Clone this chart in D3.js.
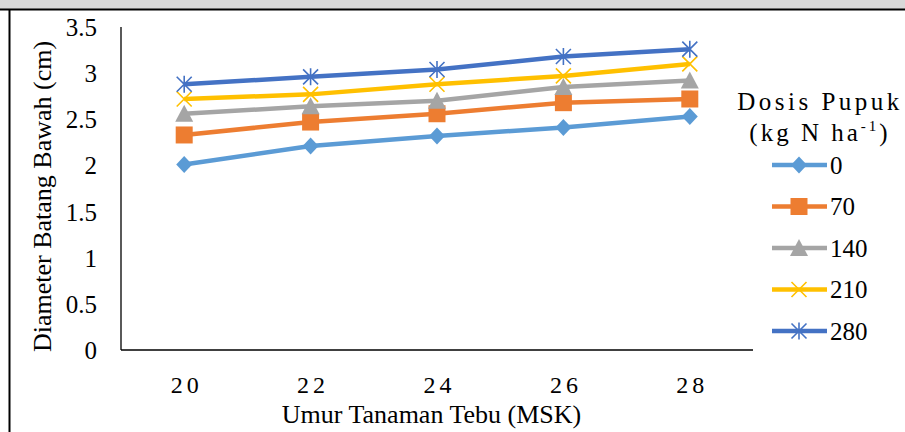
<!DOCTYPE html>
<html>
<head>
<meta charset="utf-8">
<script src="https://cdn.jsdelivr.net/npm/d3@7"></script>
<style>
  body { margin: 0; background: #fff; }
  svg { display: block; font-family: "Liberation Serif", "Times New Roman", serif; }
</style>
</head>
<body>
<svg id="chart" width="905" height="432"></svg>
<script>
'use strict';

// umur tanaman (MSK)
const weeks = ['20', '22', '24', '26', '28'];
const doses = ['0', '70', '140', '210', '280'];
const yTicks = [0, 0.5, 1, 1.5, 2, 2.5, 3, 3.5];

// diameter batang bawah (cm) per dosis
const dose0 = [2.01, 2.21, 2.32, 2.41, 2.53];
const dose70 = [2.33, 2.47, 2.56, 2.68, 2.72];
const dose140 = [2.56, 2.64, 2.70, 2.85, 2.92];
const dose210 = [2.72, 2.77, 2.88, 2.97, 3.10];
const dose280 = [2.88, 2.96, 3.04, 3.18, 3.26];

const seriesValues = [dose0, dose70, dose140, dose210, dose280];
const colors = ['#5b9bd5', '#ed7d31', '#a5a5a5', '#ffc000', '#4472c4'];
const markers = ['diamond', 'square', 'triangle', 'x', 'star'];

const FONT = '"Liberation Serif", "Times New Roman", serif';

let svg = d3.select('#chart');
let margin = {top: 27, left: 121, right: 152, bottom: 82};
let width = 905 - margin.left - margin.right;
let height = 432 - margin.top - margin.bottom;

// page frame
svg.append('rect').attr('x', 0).attr('y', 0).attr('width', 905).attr('height', 9).attr('fill', '#d9d9d9');
svg.append('line').attr('x1', 0).attr('x2', 905).attr('y1', 9.5).attr('y2', 9.5)
    .attr('stroke', '#000').attr('stroke-width', 2);
svg.append('line').attr('x1', 9.5).attr('x2', 9.5).attr('y1', 9).attr('y2', 432)
    .attr('stroke', '#000').attr('stroke-width', 2);

let g = svg.append('g').attr('transform', 'translate(' + margin.left + ',' + margin.top + ')');

let x = d3.scalePoint().domain(weeks).range([0, width]).padding(0.5);
let y = d3.scaleLinear().domain([0, 3.5]).range([height, 0]);

// axes
let xAxis = g.append('g')
    .attr('transform', 'translate(0,' + height + ')')
    .call(d3.axisBottom(x).tickSize(0));
xAxis.select('.domain').attr('stroke', '#000').attr('stroke-width', 1.3)
    .attr('d', 'M0,0H' + width);
xAxis.selectAll('text')
    .attr('y', 43).attr('dy', 0).attr('dx', 2)
    .attr('font-size', 24).attr('letter-spacing', '4px')
    .attr('fill', '#000').attr('font-family', FONT);

let yAxis = g.append('g')
    .call(d3.axisLeft(y).tickValues(yTicks).tickSize(0).tickPadding(24).tickFormat(d3.format('')));
yAxis.select('.domain').attr('stroke', '#000').attr('stroke-width', 1.3)
    .attr('d', 'M0,0V' + height);
yAxis.selectAll('text').attr('font-size', 25).attr('fill', '#000')
    .attr('font-family', FONT).attr('dy', '0.34em');

// axis titles
svg.append('text')
    .attr('x', 431.5)
    .attr('y', 423)
    .attr('text-anchor', 'middle')
    .attr('font-family', FONT)
    .attr('font-size', 26)
    .text('Umur Tanaman Tebu (MSK)');

svg.append('text')
    .attr('transform', 'translate(51,196.5)rotate(-90)')
    .attr('text-anchor', 'middle')
    .attr('font-family', FONT)
    .attr('font-size', 26)
    .text('Diameter Batang Bawah (cm)');

function markerPath(type) {
    switch (type) {
        case 'diamond': return 'M0,-8.5L8,0L0,8.5L-8,0Z';
        case 'square': return 'M-8.5,-8.5H8.5V8.5H-8.5Z';
        case 'triangle': return 'M0,-9L9,8L-9,8Z';
        case 'x': return 'M-7.5,-7.5L7.5,7.5M-7.5,7.5L7.5,-7.5';
        case 'star': return 'M-7.5,-7.5L7.5,7.5M-7.5,7.5L7.5,-7.5M0,-8.5V8.5';
    }
}

function drawMarker(sel, i) {
    let type = markers[i];
    let stroked = type === 'x' || type === 'star';
    sel.append('path')
        .attr('d', markerPath(type))
        .attr('fill', stroked ? 'none' : colors[i])
        .attr('stroke', stroked ? colors[i] : 'none')
        .attr('stroke-width', 1.6);
}

let line = d3.line()
    .x(function (d, i) { return x(weeks[i]); })
    .y(function (d) { return y(d); });

seriesValues.forEach(function (values, i) {
    let s = g.append('g').attr('class', 'series-' + doses[i]);
    s.append('path')
        .attr('d', line(values))
        .attr('fill', 'none')
        .attr('stroke', colors[i])
        .attr('stroke-width', 4.5)
        .attr('stroke-linejoin', 'round');
    values.forEach(function (v, j) {
        let m = s.append('g').attr('transform', 'translate(' + x(weeks[j]) + ',' + y(v) + ')');
        drawMarker(m, i);
    });
});

// legend
let legend = svg.append('g').attr('transform', 'translate(820,0)');
legend.append('text')
    .attr('x', 0).attr('y', 110)
    .attr('text-anchor', 'middle')
    .attr('font-family', FONT)
    .attr('font-size', 25)
    .attr('letter-spacing', '3.5px')
    .text('Dosis Pupuk');
let sub = legend.append('text')
    .attr('x', 0).attr('y', 141)
    .attr('text-anchor', 'middle')
    .attr('font-family', FONT)
    .attr('font-size', 25)
    .attr('letter-spacing', '3px');
sub.append('tspan').text('(kg N ha');
sub.append('tspan').attr('font-size', 15).attr('dy', -10).text('-1');
sub.append('tspan').attr('dy', 10).text(')');

doses.forEach(function (d, i) {
    let ly = 165 + i * 41.5;
    let item = legend.append('g').attr('transform', 'translate(2,' + ly + ')');
    item.append('line')
        .attr('x1', -50).attr('x2', 5)
        .attr('stroke', colors[i]).attr('stroke-width', 4.5);
    let m = item.append('g').attr('transform', 'translate(-23,0)');
    drawMarker(m, i);
    item.append('text')
        .attr('x', 8).attr('dy', '0.34em')
        .attr('font-family', FONT)
        .attr('font-size', 25)
        .text(d);
});
</script>
</body>
</html>
